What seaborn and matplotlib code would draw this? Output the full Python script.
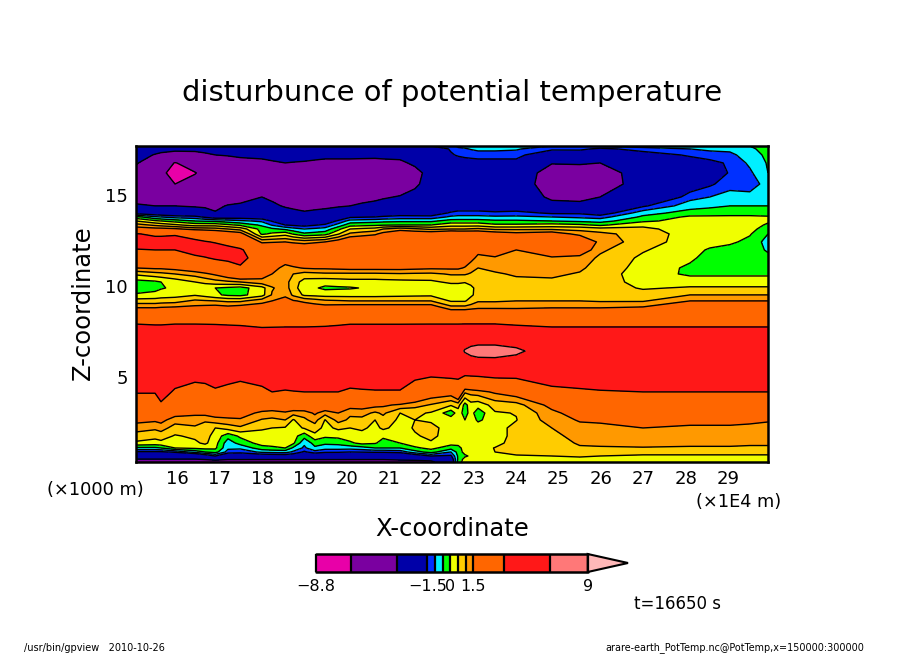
import numpy as np
import matplotlib
matplotlib.use("Agg")
import matplotlib.pyplot as plt
import seaborn as sns
from matplotlib.ticker import MultipleLocator

W, H = 904, 654

levels = [-8.8, -6.5, -3.5, -1.5, -1, -0.5, 0, 0.5, 1, 1.5, 3.5, 6.5, 9]
over_tip = 11.64
shade_hex = ["#e800a8", "#7a00a0", "#0000a8", "#0030ff", "#00f0ff", "#00ff00",
             "#f0ff00", "#ffcc00", "#ff9900", "#ff6600", "#ff1818", "#ff7878"]
over_hex = "#ffb8b8"

x_centers = [15.03, 15.48, 15.62, 15.95, 16.42, 16.66, 16.90, 17.20, 17.49, 18.00, 18.24, 18.55, 18.74, 19.00,
             19.25, 19.49, 19.80, 20.08, 20.36, 20.67, 20.86, 21.26, 21.61, 21.99, 22.46, 22.63, 22.79, 22.93,
             23.10, 23.50, 24.00, 24.84, 25.50, 25.98, 26.99, 28.10, 28.57, 29.04, 29.51, 29.94]
z_centers = [17.69, 17.53, 17.20, 16.76, 16.21, 15.60, 14.89, 14.40, 14.01, 13.79, 13.57, 13.35, 13.13, 12.86,
             12.42, 11.98, 11.54, 10.99, 10.66, 10.22, 9.89, 9.51, 9.18, 8.85,
             7.97, 7.47, 6.43, 5.11, 4.18, 3.46, 3.02, 2.64, 2.20, 1.76, 1.37, 1.10, 0.88, 0.66, 0.49, 0.33]

# one column per x_centers entry, top of the domain first
theta_columns = [
    [-1.4,-2,-2.8,-3.3,-4.2,-5,-4.5,-3.2,-1.8,-.3,.5,1.2,1.8,3.6, 4.3,3.4,2.5,1.5,.6,-.2,-.4,.1,.7,1.4, 3.4,4.2,5,4.6,3.6,2.6,2,1.7,1.2,.8,.4,-.6,-1.6,-2.5,-3.5,-4],
    [-1.4,-2.8,-3.6,-4.8,-5.8,-5.8,-4.8,-3.5,-2,-.9,.1,.9,1.7,3.2, 4.2,3.5,2.5,1.6,.8,-.1,-.2,.2,.7,1.4, 3.3,4.2,5,4.6,3.6,2.6,2.2,1.6,1.1,.65,.3,-.6,-1.6,-2.5,-3.5,-4],
    [-1.4,-3,-3.8,-5.3,-5.9,-6.1,-4.9,-3.5,-2.1,-1,0,.8,1.7,3.2, 4.2,3.5,2.5,1.6,.85,0,-.05,.25,.75,1.45, 3.3,4.2,5,4.8,4.1,3.3,2.2,1.7,1.2,.75,.35,-.5,-1.6,-2.5,-3.5,-4],
    [-1.4,-3.2,-4,-6.6,-7.5,-6.5,-5,-3.5,-2.2,-1.2,-.2,.6,1.6,3.3, 4.3,3.5,2.6,1.7,1,.2,.1,.3,.8,1.5, 3.4,4.2,5,4.3,3.3,2.6,1.8,1.2,.8,.45,.25,0,-1.4,-2.6,-3.5,-4],
    [-1.4,-3.2,-3.9,-5.5,-6.6,-5.8,-5,-3.7,-2.3,-1.3,-.5,.3,1.3,2.6, 3.9,4.3,3.1,2,1.2,.5,.2,.45,1.1,1.6, 3.4,4.2,5,3.8,3.1,2.4,1.6,1.3,.9,.6,.4,.1,-.8,-2.6,-3.5,-4],
    [-1.4,-3.1,-3.7,-5,-5.9,-5.5,-4.7,-3.75,-2.8,-1.6,-.55,.3,1.25,2.4, 3.6,4.3,3.4,2.1,1.4,.65,.1,.3,1.05,1.65, 3.4,4.1,5,3.8,3.2,2.4,1.7,1.1,.7,.7,.6,.15,-.5,-2,-3.4,-4],
    [-1.4,-3,-3.5,-4.5,-5.3,-5.3,-4.5,-3.8,-3.4,-1.9,-.6,.3,1.2,2.2, 3.4,4.2,3.7,2.3,1.6,.8,0,.1,1,1.7, 3.4,4,5,4.2,3.3,2.4,1.8,1.3,.5,.3,.2,.1,-.3,-1.5,-3.2,-4],
    [-1.4,-2.95,-3.4,-4.2,-5,-5,-4.3,-3.4,-3.1,-1.85,-.75,.1,1,2, 3,4,3.9,2.7,2,.9,-.1,-.1,.9,1.6, 3.35,4,5,4,3.1,2.35,1.75,1.4,.7,-.3,-.8,-.9,-1.2,-2.3,-3.4,-4],
    [-1.4,-2.9,-3.3,-3.9,-4.8,-4.8,-4.2,-3.2,-2.9,-1.8,-.9,-.1,.8,1.8, 2.6,3.7,4,3.3,2.4,1,-.2,-.15,.9,1.7, 3.3,4,5,3.8,3,2.3,1.7,1.45,.9,.1,-.3,-.9,-1.3,-2.2,-3.4,-4],
    [-1.4,-2.9,-3.2,-3.8,-4.6,-4.6,-3.5,-3,-2.6,-1.9,-1.1,-.6,-.2,-.1, 1.4,2.3,2.6,2.2,1.8,1.3,.3,.3,1.3,1.8, 3,4,5,4.1,3.2,1.9,1.4,.95,.55,.35,.2,-.2,-.9,-2,-3.4,-4],
    [-1.4,-2.75,-3.1,-3.65,-4.45,-4.5,-3.7,-3.3,-2.85,-2.25,-1.55,-1.05,-.4,.1, 1.45,2.3,2.25,1.75,1.5,1.25,.95,1.05,1.5,1.9, 3.05,4,5,4.4,3.5,2.1,1.25,.9,.5,.35,.2,-.1,-.85,-1.95,-3.4,-4],
    [-1.4,-2.6,-3,-3.5,-4.3,-4.4,-3.9,-3.6,-3.1,-2.6,-2,-1.5,-.6,.3, 1.5,2.3,1.9,1.3,1.2,1.2,1.25,1.4,1.7,2, 3.1,4,5,4.3,3.4,2.2,1.4,1,.45,.3,.2,0,-.8,-1.9,-3.4,-4],
    [-1.4,-2.65,-3.05,-3.55,-4.35,-4.55,-4.1,-3.7,-3.25,-2.8,-2.2,-1.6,-.8,-.05, 1.4,2.25,2.15,1.4,1,.75,.7,.9,1.55,1.9, 3.1,4,5,4.4,3.45,2.2,1.2,.45,.3,.2,.1,-.6,-1.1,-2,-3.4,-4],
    [-1.4,-2.7,-3.1,-3.6,-4.4,-4.7,-4.3,-3.8,-3.4,-3,-2.4,-1.7,-1,-.4, 1.3,2.2,2.4,1.55,.8,.3,.2,.4,1.4,1.8, 3.1,4,5,4.4,3.5,2.3,1.2,.9,.55,-.3,-.9,-1.1,-1.6,-2.2,-3.4,-4],
    [-1.4,-2.75,-3.15,-3.7,-4.5,-4.8,-4.4,-3.75,-3.3,-2.8,-2.2,-1.55,-.9,-.3, 1.4,2.3,2.35,1.6,.85,.25,.05,.35,1.25,1.75, 3.15,4,5,4.3,3.5,2.35,1.6,1.2,.75,.35,-.3,-.6,-1.2,-2.3,-3.4,-4],
    [-1.4,-2.8,-3.2,-3.8,-4.6,-4.9,-4.5,-3.7,-3.2,-2.6,-2,-1.4,-.8,-.2, 1.5,2.4,2.3,1.6,.9,.2,-.1,.3,1.1,1.7, 3.2,4,5,4.3,3.5,2.2,1.2,.48,.35,.1,-.4,-.8,-1.4,-2.4,-3.4,-4],
    [-1.4,-2.8,-3.2,-3.8,-4.65,-4.85,-4.35,-3.6,-2.95,-2.1,-1.4,-.8,-.15,.45, 1.85,2.6,2.3,1.65,.9,.25,-.07,.3,1.05,1.75, 3.3,4.05,5,4.4,3.5,2.1,1.5,1.2,.6,.15,-.35,-.8,-1.4,-2.6,-3.4,-4],
    [-1.4,-2.8,-3.2,-3.8,-4.7,-4.8,-4.2,-3.5,-2.7,-1.6,-.8,-.2,.5,1.1, 2.2,2.8,2.3,1.7,.9,.3,-.05,.3,1,1.8, 3.4,4.1,5,4.2,3.3,1.8,1.1,.9,.5,.3,-.1,-.8,-1.5,-2.8,-3.4,-4],
    [-1.4,-2.8,-3.2,-3.85,-4.75,-4.8,-4.05,-3.25,-2.45,-1.55,-.75,-.15,.6,1.25, 2.25,2.85,2.35,1.7,.9,.3,.02,.3,1,1.8, 3.4,4.1,5,4.3,3.35,1.8,1.2,.85,.6,.3,.15,-.7,-1.45,-2.7,-3.4,-4],
    [-1.4,-2.8,-3.2,-3.9,-4.8,-4.8,-3.9,-3,-2.2,-1.5,-.7,-.1,.7,1.4, 2.3,2.9,2.4,1.7,.9,.3,.1,.3,1,1.8, 3.4,4.1,5,4.3,3.4,1.7,.9,.5,.35,.15,.05,-.5,-1.4,-2.6,-3.4,-4],
    [-1.4,-2.75,-3.2,-3.8,-4.7,-4.6,-3.65,-2.95,-2.05,-1.4,-.65,-.05,1,1.7, 2.4,2.95,2.5,1.7,.92,.32,.12,.32,1,1.8, 3.4,4.1,5,4.3,3.4,1.6,1.1,.8,.6,.1,-.2,-.5,-1.4,-2.6,-3.4,-4],
    [-1.4,-2.7,-3.2,-3.7,-4.6,-4.4,-3.4,-2.9,-1.9,-1.3,-.6,0,1.3,2, 2.5,3,2.6,1.7,.95,.35,.15,.35,1,1.8, 3.4,4.1,5,4.3,3.4,1.4,.5,.4,.3,.2,0,-.5,-1.3,-2.5,-3.3,-3.9],
    [-1.4,-2.45,-2.9,-3.3,-3.85,-3.7,-3.15,-2.7,-1.95,-1.3,-.6,0,1.1,2, 2.55,3,2.65,1.65,.92,.38,.12,.38,1,1.8, 3.4,4.15,5,3.9,2.6,1.2,.6,.5,.55,.45,.3,-.1,-.7,-2,-3.2,-3.9],
    [-1.5,-2.2,-2.6,-2.9,-3.1,-3,-2.9,-2.5,-2,-1.3,-.6,0,.9,2, 2.6,3,2.7,1.6,.9,.4,.1,.4,1,1.8, 3.4,4.2,5,3.7,2,.95,.45,.45,.6,.6,.45,.15,-.3,-1.5,-3,-3.8],
    [-1.2,-1.4,-1.6,-2.2,-2.6,-2.7,-2.6,-2.2,-1.4,-.9,-.3,.3,1,2.3, 2.9,3.1,2.6,1.6,1.05,.6,.2,.2,.45,1.1, 3.4,4.2,5,3.9,1.9,.55,-.3,.3,.35,.3,.2,-.3,-1,-1.6,-2,-2.2],
    [-.9,-1.1,-1.4,-2,-2.4,-2.5,-2.4,-2,-1.3,-.85,-.3,.3,1,2.2, 2.9,3,2.5,1.6,1.05,.6,.2,.2,.45,1.1, 3.4,4.2,5.5,3.8,2.6,.7,.25,.25,.3,.3,.2,-.2,-.3,-.4,-.4,-.3],
    [-.85,-1.05,-1.3,-1.9,-2.3,-2.4,-2.3,-2,-1.3,-.85,-.3,.3,1,2.2, 2.9,2.8,2,1.45,1.05,.55,.1,.1,.45,1.1, 3.4,4.3,6.7,3.6,1.1,-.2,-.2,0,.3,.25,.15,.25,.2,-.1,.2,.3],
    [-.8,-.97,-1.25,-1.85,-2.25,-2.35,-2.3,-2,-1.3,-.85,-.3,.3,1.05,2.15, 2.8,2.25,1.7,1.2,.95,.62,.4,.4,.7,1.2, 3.4,4.3,7.2,3.65,1.2,.3,.2,.3,.3,.28,.2,.28,.25,.1,.25,.32],
    [-.75,-.9,-1.2,-1.8,-2.2,-2.3,-2.3,-2,-1.3,-.85,-.3,.3,1.1,2.1, 2.7,1.7,1.35,1,.85,.7,.65,.7,.95,1.3, 3.4,4.3,7.5,3.7,1.3,.2,-.3,-.1,.3,.3,.25,.3,.3,.3,.3,.35],
    [-.8,-.9,-1.2,-1.8,-2.2,-2.3,-2.4,-2,-1.4,-.9,-.4,.1,.9,1.9, 2.3,1.8,1.45,1.1,.95,.75,.75,.75,.95,1.3, 3.4,4.3,7.5,3.9,1.6,.7,.45,.3,.3,.3,.35,.52,.5,.3,.3,.35],
    [-.8,-.95,-1.2,-1.8,-2.2,-2.3,-2.4,-2.1,-1.3,-.9,-.4,.1,.9,1.7, 2.2,1.5,1.3,1.15,1.05,.9,.85,.85,1,1.3, 3.3,4.1,7,3.9,1.9,.8,.52,.48,.65,.65,.7,.7,.65,.45,.35,.3],
    [-1,-1.3,-2.4,-3.4,-4.4,-4.6,-3.8,-3,-1.6,-1,-.5,.2,.9,1.9, 2.5,2.2,1.4,1.2,1.1,.9,.85,.9,1,1.4, 3.1,4,5,4.1,3.2,1.7,1.35,1.25,1,.85,.8,.75,.7,.5,.4,.35],
    [-1,-1.3,-2.3,-3.3,-4.5,-4.8,-3.9,-3.1,-1.6,-1.1,-.6,.1,.85,1.3, 2.4,2,1.3,1.1,.95,.8,.8,.85,1,1.4, 3.1,4,5,4.3,3.3,2.2,1.8,1.55,1.35,1.2,1.05,.95,.8,.55,.4,.35],
    [-.85,-1.7,-2.5,-3.5,-4.3,-4.2,-3.5,-3,-1.9,-1.2,-.7,-.1,.7,1.15, 1.3,1.1,.9,.75,.7,.7,.75,.8,.95,1.4, 3.1,4,5,4.4,3.4,2.4,1.9,1.6,1.35,1.2,1.1,.95,.75,.5,.4,.35],
    [-.8,-1.2,-1.9,-2.3,-2.7,-2.9,-2.8,-1.6,-.7,-.4,-.1,.4,.6,.75, .75,.55,.4,.35,.3,.35,.45,.7,.95,1.5, 3.1,4,5,4.6,3.5,2.6,1.9,1.7,1.5,1.3,1.1,.98,.75,.4,.35,.3],
    [-.7,-1,-1.4,-1.9,-2.3,-2,-1.2,-.7,-.3,.1,.2,.25,.3,.3, .25,.15,.1,-.1,-.1,.3,.55,1,1.5,2, 3.1,4,5,4.3,3.5,2.5,1.9,1.6,1.45,1.3,1.1,.95,.75,.4,.35,.3],
    [-.75,-.9,-1.2,-1.7,-1.9,-1.6,-1,-.6,-.25,.1,.2,.28,.3,.3, .15,-.05,-.2,-.3,-.1,.3,.55,1,1.5,2, 3.1,4,5,4.3,3.5,2.5,1.9,1.6,1.45,1.3,1.1,.95,.75,.4,.35,.3],
    [-.8,-.9,-1.1,-1.4,-1.45,-1.2,-.8,-.5,-.2,.1,.2,.3,.3,.25, .1,-.2,-.3,-.3,-.1,.3,.55,1,1.5,2, 3.1,4,5,4.3,3.5,2.5,1.9,1.6,1.45,1.3,1.1,.95,.75,.4,.35,.3],
    [-.5,-.6,-.8,-.9,-1.1,-1.3,-.8,-.5,-.2,.1,.25,.3,.2,.05, -.15,-.3,-.3,-.3,-.1,.3,.55,1,1.5,2, 3.1,4,5,4.3,3.5,2.5,1.85,1.6,1.4,1.25,1.05,.95,.75,.4,.35,.3],
    [-.3,-.3,-.35,-.45,-.5,-.75,-.7,-.5,-.2,.05,.1,-.1,-.3,-.5, -.7,-.55,-.4,-.3,-.1,.3,.55,1,1.5,2, 3.1,4,5,4.3,3.5,2.5,1.8,1.55,1.35,1.2,1.05,.95,.75,.4,.35,.3],
]

title = "disturbunce of potential temperature"
x_ticks = list(range(16, 30))
z_ticks = [5, 10, 15]
bar_ticks = [(-8.8, "\u22128.8"), (-1.5, "\u22121.5"), (0, "0"), (1.5, "1.5"), (9, "9")]

sns.set_style("ticks")
plt.rcParams["font.family"] = ["DejaVu Sans"]
plt.rcParams["xtick.labelcolor"] = "black"
plt.rcParams["ytick.labelcolor"] = "black"
plt.rcParams["text.color"] = "black"
shades = sns.color_palette(shade_hex)


def put_text(fig, px, py, s, **kw):
    fig.text(px / W, 1 - py / H, s, color="black", **kw)


fig = plt.figure(figsize=(W / 100, H / 100), dpi=100, facecolor="white")
ax = fig.add_axes([136 / W, 1 - 462 / H, 632 / W, 316 / H])

theta = np.array(theta_columns).T
z_up = np.array(z_centers)[::-1]
theta_up = theta[::-1]
ax.contourf(x_centers, z_up, theta_up, levels=levels, colors=shades)
ax.contour(x_centers, z_up, theta_up, levels=levels, colors="black", linewidths=1.0,
           negative_linestyles="solid")

ax.set_xlim(15.03, 29.94)
ax.set_ylim(0.33, 17.69)
ax.set_xticks(x_ticks)
ax.set_yticks(z_ticks)
ax.xaxis.set_minor_locator(MultipleLocator(0.5))
ax.yaxis.set_minor_locator(MultipleLocator(1))
ax.tick_params(which="major", direction="in", length=6, width=1.5, top=True, right=True,
               color="black", labelsize=13, pad=6)
ax.tick_params(which="minor", direction="in", length=3, width=0.8, top=True, right=True, color="black")
for spine in ax.spines.values():
    spine.set_linewidth(1.8)
    spine.set_color("black")

put_text(fig, 452, 93, title, fontsize=20.9, ha="center", va="center")
put_text(fig, 83, 303, "Z-coordinate", fontsize=17.5, rotation=90, ha="center", va="center")
put_text(fig, 452, 529, "X-coordinate", fontsize=17.5, ha="center", va="center")
put_text(fig, 95, 490, "(\u00d71000 m)", fontsize=12.8, ha="center", va="center")
put_text(fig, 739, 502, "(\u00d71E4 m)", fontsize=12.8, ha="center", va="center")
put_text(fig, 678, 604, "t=16650 s", fontsize=12, ha="center", va="center")
put_text(fig, 94, 648, "/usr/bin/gpview   2010-10-26", fontsize=7, ha="center", va="center")
put_text(fig, 735, 648, "arare-earth_PotTemp.nc@PotTemp,x=150000:300000", fontsize=6.9, ha="center", va="center")

# colour bar along the theta axis, drawn from the same levels
cax = fig.add_axes([316 / W, 1 - 572 / H, 312 / W, 18 / H])
cax.pcolormesh(levels, [0, 1], np.arange(len(shades)).reshape(1, -1),
               cmap=matplotlib.colors.ListedColormap(shades))
cax.vlines(levels, 0, 1, color="black", lw=1.6, clip_on=False)
cax.fill([levels[-1], over_tip, levels[-1]], [0, 0.5, 1], facecolor=over_hex,
         edgecolor="black", linewidth=1.5, clip_on=False)
cax.plot([levels[0], levels[-1]], [0, 0], color="black", lw=1.8, clip_on=False)
cax.plot([levels[0], levels[-1]], [1, 1], color="black", lw=1.8, clip_on=False)
cax.set_xlim(levels[0], over_tip)
cax.set_ylim(0, 1)
cax.axis("off")
for value, label in bar_ticks:
    cax.text(value, -0.78, label, fontsize=11.5, ha="center", va="center")

plt.savefig("out.png", dpi=100)
